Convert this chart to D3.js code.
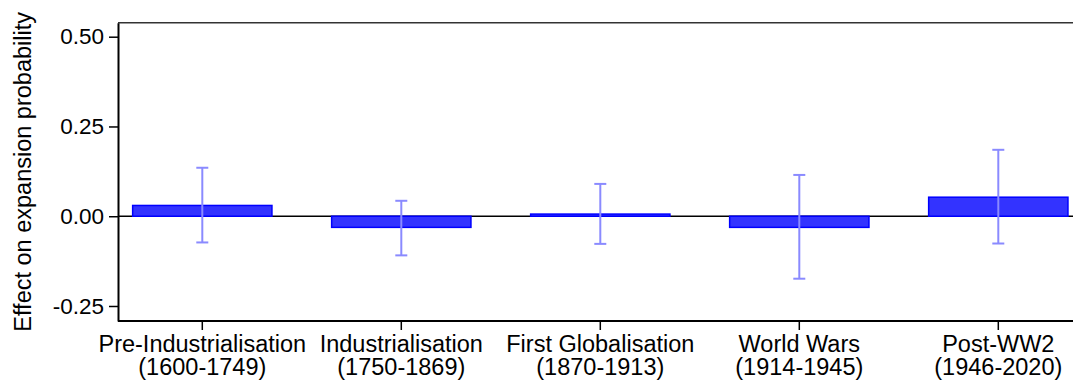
<!DOCTYPE html>
<html><head><meta charset="utf-8">
<script src="https://cdn.jsdelivr.net/npm/d3@7"></script>
<style>body{margin:0;background:#fff;} svg{display:block;font-family:Arial,"Liberation Sans",sans-serif;}</style>
</head><body>
<svg id="c" width="1073" height="381"></svg>
<script>
const periods = ["Pre-Industrialisation", "Industrialisation", "First Globalisation", "World Wars", "Post-WW2"];
const years = ["(1600-1749)", "(1750-1869)", "(1870-1913)", "(1914-1945)", "(1946-2020)"];
const effects = [0.030, -0.031, 0.006, -0.031, 0.053];
const ciLow = [-0.073, -0.109, -0.077, -0.174, -0.076];
const ciHigh = [0.135, 0.043, 0.090, 0.115, 0.185];
const yTicks = [-0.25, 0, 0.25, 0.5];

const svg = d3.select("#c");
const m = {left: 118, top: 22.7, right: 1082.6, bottom: 321};
const x = d3.scaleBand().domain(periods).range([m.left, m.right]).paddingInner(0.3).paddingOuter(0.0736);
const xc = d => x(d) + x.bandwidth() / 2;
const y = d3.scaleLinear().domain([-0.2918, 0.539]).range([m.bottom, m.top]);
const FONT = "Arial, 'Liberation Sans', sans-serif";

// zero line
svg.append("line").attr("x1", m.left).attr("x2", 1073).attr("y1", y(0)).attr("y2", y(0))
  .attr("stroke", "#000").attr("stroke-width", 1.5);

// bars
svg.selectAll("rect.bar").data(periods).join("rect").attr("class", "bar")
  .attr("x", d => x(d)).attr("width", x.bandwidth())
  .attr("y", (d, i) => y(Math.max(0, effects[i])))
  .attr("height", (d, i) => Math.abs(y(effects[i]) - y(0)))
  .attr("fill", "#3333ff").attr("stroke", "#0000ff").attr("stroke-width", 1.5);

// error bars
const eb = svg.selectAll("g.eb").data(periods).join("g").attr("class", "eb")
  .attr("stroke", "#8a8aff").attr("stroke-width", 2);
eb.append("line").attr("x1", d => xc(d)).attr("x2", d => xc(d))
  .attr("y1", (d, i) => y(ciLow[i])).attr("y2", (d, i) => y(ciHigh[i]));
eb.append("line").attr("x1", d => xc(d) - 6).attr("x2", d => xc(d) + 6)
  .attr("y1", (d, i) => y(ciLow[i])).attr("y2", (d, i) => y(ciLow[i]));
eb.append("line").attr("x1", d => xc(d) - 6).attr("x2", d => xc(d) + 6)
  .attr("y1", (d, i) => y(ciHigh[i])).attr("y2", (d, i) => y(ciHigh[i]));

// frame top
svg.append("line").attr("x1", m.left).attr("x2", 1073).attr("y1", m.top).attr("y2", m.top)
  .attr("stroke", "#333").attr("stroke-width", 1.5);

// y axis
const ya = svg.append("g").attr("transform", `translate(${m.left},0)`)
  .call(d3.axisLeft(y).tickValues(yTicks).tickFormat(d3.format(".2f")).tickSize(9).tickPadding(5).tickSizeOuter(0));
ya.select(".domain").attr("stroke", "#000").attr("stroke-width", 2);
ya.selectAll(".tick line").attr("stroke", "#000").attr("stroke-width", 1.5);
ya.selectAll(".tick text").attr("font-size", 22.5).attr("fill", "#000").attr("font-family", FONT)
  .text(d => d < 0 ? "-" + d3.format(".2f")(-d) : d3.format(".2f")(d));

// x axis
const xa = svg.append("g").attr("transform", `translate(0,${m.bottom})`)
  .call(d3.axisBottom(x).tickSize(9).tickSizeOuter(0).tickFormat(""));
xa.select(".domain").attr("d", `M${m.left},0H1073`).attr("stroke", "#000").attr("stroke-width", 2);
xa.selectAll(".tick line").attr("stroke", "#000").attr("stroke-width", 1.5);
xa.selectAll(".tick").each(function(d, i) {
  const t = d3.select(this).append("text").attr("fill", "#000").attr("font-size", 23.5)
    .attr("text-anchor", "middle").attr("font-family", FONT);
  t.append("tspan").attr("x", 0).attr("y", 31).text(periods[i]);
  t.append("tspan").attr("x", 0).attr("y", 54).text(years[i]);
});

// y label
svg.append("text").attr("transform", `translate(31,${(m.top + m.bottom) / 2}) rotate(-90)`)
  .attr("text-anchor", "middle").attr("font-size", 23.5).attr("fill", "#000").attr("font-family", FONT)
  .text("Effect on expansion probability");
</script>
</body></html>
